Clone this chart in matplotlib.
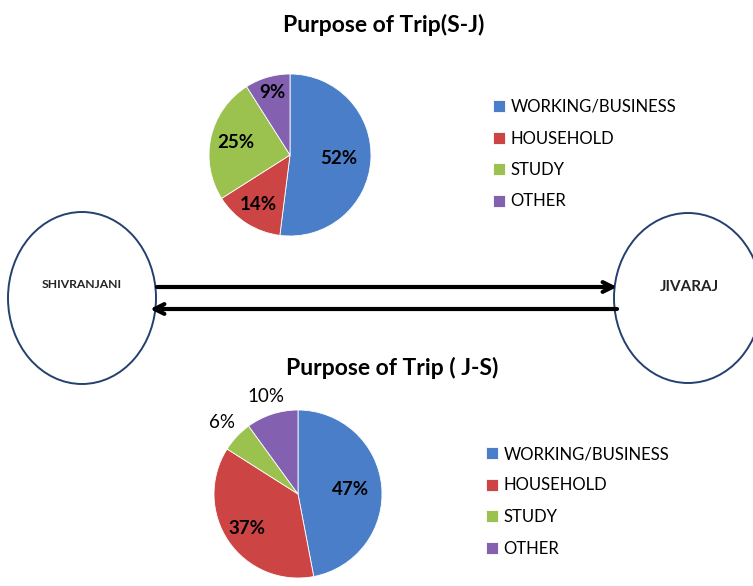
import matplotlib
matplotlib.use("Agg")
import matplotlib.pyplot as plt
from matplotlib.patches import Ellipse
import numpy as np

plt.rcParams['font.family'] = ['Lato', 'DejaVu Sans']

categories = ["WORKING/BUSINESS", "HOUSEHOLD", "STUDY", "OTHER"]
sj_values = [52, 14, 25, 9]
js_values = [47, 37, 6, 10]
colors = ["#4A7EC9", "#CC4444", "#9BC24F", "#8360B0"]
title_sj = "Purpose of Trip(S-J)"
title_js = "Purpose of Trip ( J-S)"
origin = "SHIVRANJANI"
dest = "JIVARAJ"

W, H = 753, 586
fig = plt.figure(figsize=(W / 100, H / 100), dpi=100)
ax = fig.add_axes([0, 0, 1, 1])
ax.set_xlim(0, W)
ax.set_ylim(0, H)
ax.set_aspect('equal')
ax.axis('off')

def Y(y):
    return H - y

def draw_pie(values, cx, cy, r, dists, bolds):
    wedges, _ = ax.pie(values, colors=colors, startangle=90, counterclock=False,
                       center=(cx, Y(cy)), radius=r, frame=True,
                       wedgeprops=dict(linewidth=0.6, edgecolor='white'))
    for w, v, d, b in zip(wedges, values, dists, bolds):
        ang = np.deg2rad((w.theta1 + w.theta2) / 2)
        x = cx + d * r * np.cos(ang)
        y = Y(cy) + d * r * np.sin(ang)
        ax.text(x, y, f"{v}%", ha='center', va='center', fontsize=13.5,
                fontweight='bold' if b else 'normal', color='black')
    return wedges

w1 = draw_pie(sj_values, 290, 155, 81, [0.60, 0.72, 0.68, 0.80], [True, True, True, True])
w2 = draw_pie(js_values, 298, 494, 84, [0.63, 0.74, 1.24, 1.22], [True, True, False, False])
ax.set_xlim(0, W)
ax.set_ylim(0, H)
ax.axis('off')

ax.text(384, Y(25), title_sj, ha='center', va='center', fontsize=16.5, fontweight='bold')
ax.text(392, Y(368), title_js, ha='center', va='center', fontsize=16.5, fontweight='bold')

leg_kw = dict(frameon=False, fontsize=12, handlelength=0.7, handleheight=0.7,
              handletextpad=0.35, labelspacing=0.93, loc='upper left',
              borderaxespad=0, borderpad=0)
leg1 = ax.legend(w1, categories, bbox_to_anchor=(493 / W, 1 - 99 / H), **leg_kw)
ax.add_artist(leg1)
leg2 = ax.legend(w2, categories, bbox_to_anchor=(486 / W, 1 - 446 / H), **leg_kw)

ec = "#23406E"
ax.add_patch(Ellipse((82, Y(298)), 148, 172, fill=False, edgecolor=ec, lw=1.4))
ax.add_patch(Ellipse((688, Y(298)), 148, 170, fill=False, edgecolor=ec, lw=1.4))
ax.text(82, Y(284), origin, ha='center', va='center', fontsize=8.7, fontweight='bold',
        color='#222222')
ax.text(689, Y(287), dest, ha='center', va='center', fontsize=11, fontweight='bold',
        color='#222222')

ap = dict(arrowstyle='->,head_length=0.7,head_width=0.35', lw=3, color='black',
          shrinkA=0, shrinkB=0)
ax.annotate('', xy=(617, Y(287)), xytext=(157, Y(287)), arrowprops=ap)
ax.annotate('', xy=(150, Y(309)), xytext=(617, Y(309)), arrowprops=ap)

fig.savefig("out.png", dpi=100, facecolor='white')
